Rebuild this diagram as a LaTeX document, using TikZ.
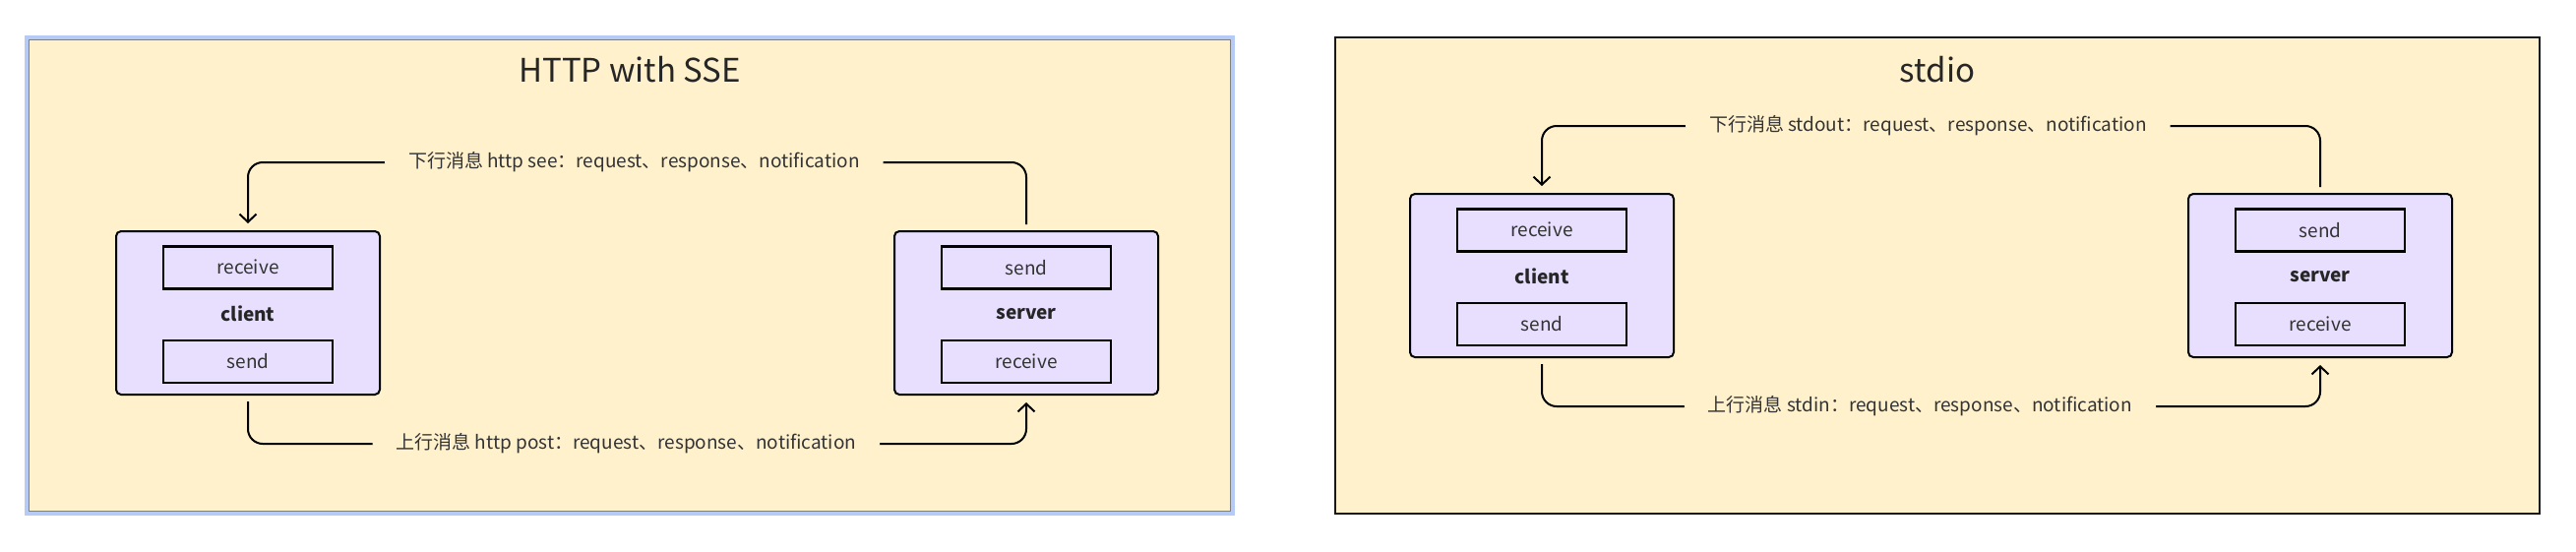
\documentclass[tikz,border=0pt]{standalone}
\usepackage{fontspec}
\setmainfont{Noto Sans CJK SC}
\usetikzlibrary{positioning,arrows.meta}

\definecolor{panelfill}{HTML}{FFF1CC}
\definecolor{hostfill}{HTML}{E8DFFF}
\definecolor{selblue}{HTML}{B5CAF5}
\definecolor{inkgray}{HTML}{333333}

\tikzset{
  hostbox/.style={draw, line width=2pt, fill=hostfill, rounded corners=5pt,
    minimum width=268pt, minimum height=166pt},
  portbox/.style={draw, line width=2.5pt, fill=hostfill, minimum width=172pt,
    minimum height=43pt, inner sep=0pt, text=inkgray, font=\fontsize{19}{22}\selectfont},
  hostname/.style={text=black!85, font=\fontsize{19}{22}\selectfont\bfseries},
  msg/.style={fill=panelfill, inner xsep=24pt, inner ysep=2pt, text=inkgray,
    font=\fontsize{19}{22}\selectfont},
  link/.style={line width=2pt, rounded corners=15pt},
  paneltitle/.style={anchor=base, text=black!85, font=\fontsize{33}{40}\selectfont},
}

\def\topA{165}
\def\botA{451}
\def\topB{128}
\def\botB{413}

\begin{document}
\begin{tikzpicture}[x=1pt, y=-1pt, >={Straight Barb[length=8pt,width=17pt]}]
        \useasboundingbox (0,0) rectangle (2618,560);
        % HTTP with SSE
        \draw[selblue, line width=4pt] (27,38) rectangle (1253,522);
        \draw[gray, fill=panelfill, line width=1pt] (29.5,40.5) rectangle (1250.5,519.5);
        \node[paneltitle] (titleA) at (640,83) {HTTP with SSE};
        \node[hostbox] (cliA) at (252,318) {};
        \node[portbox, below=15pt of cliA.north] (cliArecv) {receive};
        \node[hostname] (cliAname) at ([yshift=-1pt]cliA.center) {client};
        \node[portbox, above=12pt of cliA.south] (cliAsend) {send};
        \node[hostbox] (srvA) at (1043,318) {};
        \node[portbox, below=15pt of srvA.north] (srvAsend) {send};
        \node[hostname] (srvAname) at ([yshift=-1pt]srvA.center) {server};
        \node[portbox, above=12pt of srvA.south] (srvArecv) {receive};
        \coordinate (downA) at (0,\topA);
        \coordinate (upA) at (0,\botA);
        \draw[link, ->] ([yshift=6pt]srvA.north) -- (srvA.north |- downA)
          -- node[msg, pos=0.504] (msgdownA) {下行消息 http see：request、response、notification}
          (cliA.north |- downA) -- ([yshift=7pt]cliA.north);
        \draw[link, ->] ([yshift=-6pt]cliA.south) -- (cliA.south |- upA)
          -- node[msg, pos=0.486] (msgupA) {上行消息 http post：request、response、notification}
          (srvA.south |- upA) -- ([yshift=-7pt]srvA.south);
        % stdio
        \draw[black!90, fill=panelfill, line width=2pt] (1357,38) rectangle (2581,522);
        \node[paneltitle] (titleB) at (1969,83) {stdio};
        \node[hostbox] (cliB) at (1567,280) {};
        \node[portbox, below=15pt of cliB.north] (cliBrecv) {receive};
        \node[hostname] (cliBname) at ([yshift=-1pt]cliB.center) {client};
        \node[portbox, above=12pt of cliB.south] (cliBsend) {send};
        \node[hostbox] (srvB) at (2358,280) {};
        \node[portbox, below=15pt of srvB.north] (srvBsend) {send};
        \node[hostname] (srvBname) at ([yshift=-1pt]srvB.center) {server};
        \node[portbox, above=12pt of srvB.south] (srvBrecv) {receive};
        \coordinate (downB) at (0,\topB);
        \coordinate (upB) at (0,\botB);
        \draw[link, ->] ([yshift=6pt]srvB.north) -- (srvB.north |- downB)
          -- node[msg, pos=0.504] (msgdownB) {下行消息 stdout：request、response、notification}
          (cliB.north |- downB) -- ([yshift=7pt]cliB.north);
        \draw[link, ->] ([yshift=-6pt]cliB.south) -- (cliB.south |- upB)
          -- node[msg, pos=0.486] (msgupB) {上行消息 stdin：request、response、notification}
          (srvB.south |- upB) -- ([yshift=-7pt]srvB.south);
\end{tikzpicture}
\end{document}
